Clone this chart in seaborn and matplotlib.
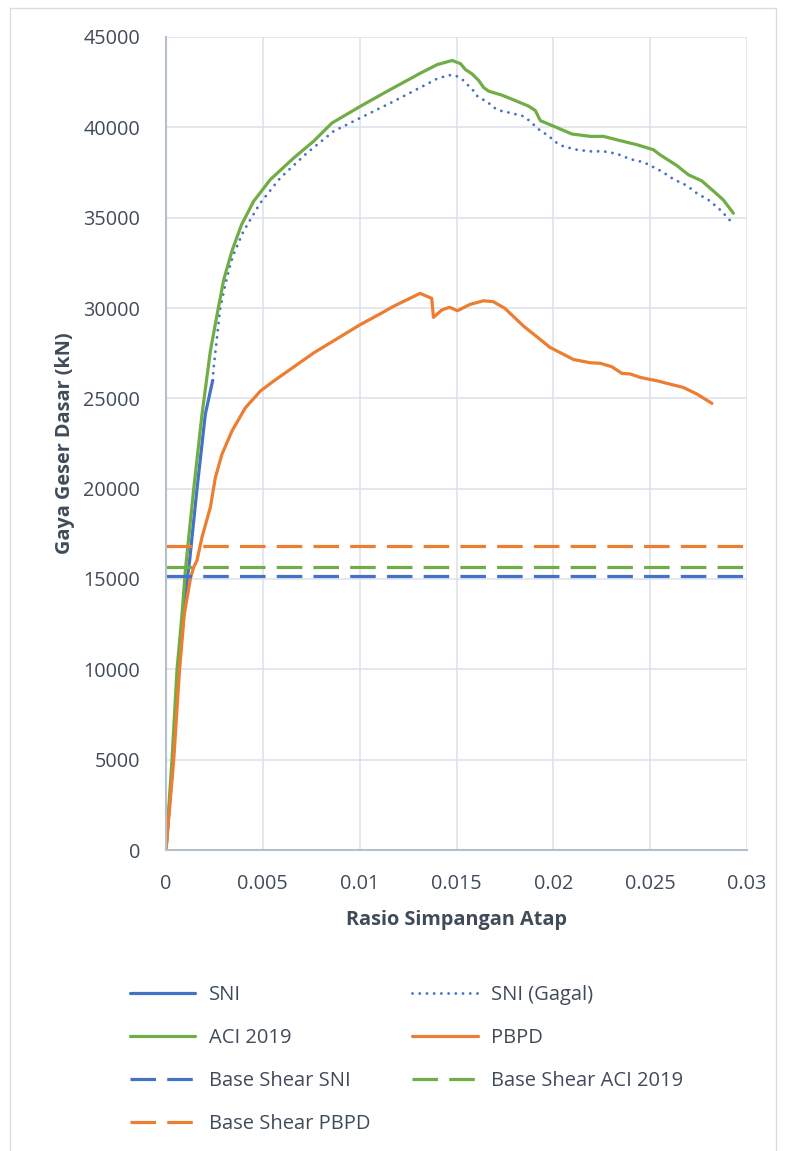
import matplotlib
matplotlib.use("Agg")
import matplotlib.pyplot as plt
import seaborn as sns
from matplotlib.patches import Rectangle

# ---- data -------------------------------------------------------------
# roof drift ratio vs. base shear (kN)
sni_x = [0, 0.00036, 0.00065, 0.00091, 0.00112, 0.00122, 0.0016, 0.00203, 0.00241]
sni_y = [0, 5000, 10000, 13090, 15200, 16030, 19980, 24120, 25990]

sni_gagal_x = [0.00241, 0.00246, 0.00263, 0.0028, 0.00306, 0.00332, 0.00348, 0.004,
               0.00486, 0.0059, 0.00728, 0.00865, 0.01003, 0.01176, 0.01314, 0.014,
               0.0146, 0.01495, 0.0153, 0.01555, 0.0158, 0.01598, 0.01624, 0.01658,
               0.01684, 0.01718, 0.01778, 0.01847, 0.01881, 0.01907, 0.01933, 0.01967,
               0.02019, 0.02053, 0.02122, 0.02191, 0.02259, 0.02328, 0.02397, 0.02466,
               0.025, 0.0256, 0.0262, 0.02689, 0.02741, 0.02801, 0.02853, 0.02904, 0.0293]
sni_gagal_y = [25990, 26690, 28350, 30000, 31290, 32400, 32950, 34250,
               35800, 37200, 38580, 39780, 40520, 41440, 42210, 42690,
               42890, 42870, 42650, 42370, 42150, 41810, 41590, 41440,
               41150, 40940, 40800, 40610, 40330, 40060, 39810, 39590,
               39130, 38940, 38760, 38670, 38670, 38540, 38240, 38070,
               37890, 37560, 37130, 36780, 36350, 35980, 35520, 34960, 34590]

aci_x = [0, 0.00031, 0.00057, 0.00083, 0.001, 0.00143, 0.00186, 0.00229, 0.00267,
         0.00298, 0.0034, 0.0039, 0.00452, 0.00538, 0.00659, 0.00762, 0.00857,
         0.01003, 0.01141, 0.01314, 0.014, 0.0146, 0.01478, 0.01521, 0.01546,
         0.0158, 0.01615, 0.01641, 0.01667, 0.01735, 0.01813, 0.01873, 0.01907,
         0.01933, 0.02002, 0.02096, 0.02191, 0.02259, 0.02328, 0.02431, 0.02517,
         0.02551, 0.02637, 0.02698, 0.02766, 0.02826, 0.02878, 0.0293]
aci_y = [0, 5000, 10000, 13090, 15480, 19980, 24120, 27610, 29820,
         31560, 33140, 34610, 35900, 37100, 38300, 39230, 40240,
         41160, 41990, 43000, 43470, 43650, 43700, 43520, 43200,
         42960, 42590, 42190, 42000, 41780, 41440, 41170, 40930,
         40370, 40060, 39630, 39500, 39500, 39310, 39040, 38760,
         38480, 37890, 37370, 37040, 36480, 35980, 35240]

pbpd_x = [0, 0.0004, 0.0007, 0.00095, 0.00127, 0.00143, 0.0016, 0.00186, 0.00229,
          0.00255, 0.00289, 0.00341, 0.0041, 0.00487, 0.00555, 0.00762, 0.01003,
          0.01105, 0.01176, 0.01312, 0.01372, 0.01381, 0.01424, 0.01464, 0.01505,
          0.0157, 0.01639, 0.0169, 0.0175, 0.01846, 0.01983, 0.02104, 0.0219,
          0.02242, 0.02302, 0.02354, 0.02397, 0.02448, 0.02535, 0.02672, 0.02741, 0.02819]
pbpd_y = [0, 5000, 10000, 13090, 15070, 15660, 16030, 17320, 18970,
          20620, 21910, 23200, 24480, 25400, 25950, 27510, 29080,
          29670, 30100, 30810, 30535, 29480, 29890, 30040, 29850,
          30200, 30400, 30350, 29980, 29000, 27820, 27150, 26970,
          26940, 26750, 26380, 26350, 26160, 25970, 25600, 25240, 24720]

# design base shear levels (kN)
base_shear_sni = 15170
base_shear_aci = 15680
base_shear_pbpd = 16840

x_ticks = [0, 0.005, 0.01, 0.015, 0.02, 0.025, 0.03]
x_tick_labels = ["0", "0.005", "0.01", "0.015", "0.02", "0.025", "0.03"]
y_ticks = [0, 5000, 10000, 15000, 20000, 25000, 30000, 35000, 40000, 45000]

# ---- style ------------------------------------------------------------
BLUE = "#4472C4"
GREEN = "#70AD47"
ORANGE = "#ED7D31"
TEXT = "#404b5a"
GRID = "#dde2e9"
SPINE = "#b6c0cd"
FS = 14.3

sns.set_theme(style="white")
plt.rcParams["font.family"] = ["Open Sans", "DejaVu Sans"]

W, H = 787, 1151
fig = plt.figure(figsize=(W / 100, H / 100), dpi=100)
ax = fig.add_axes([166 / W, 1 - 850 / H, (747 - 166) / W, (850 - 37) / H])

LW = 2.3
common = dict(ax=ax, sort=False, estimator=None, legend=False)

sns.lineplot(x=sni_x, y=sni_y, color=BLUE, lw=LW, **common)
sns.lineplot(x=sni_gagal_x, y=sni_gagal_y, color=BLUE, lw=LW * 0.9,
             linestyle=(0, (0.01, 2.5)), dash_capstyle="round", **common)
sns.lineplot(x=aci_x, y=aci_y, color=GREEN, lw=LW, **common)
sns.lineplot(x=pbpd_x, y=pbpd_y, color=ORANGE, lw=LW, **common)

dash = (0, (8, 3.5))
span = [x_ticks[0], x_ticks[-1]]
for val, col in [(base_shear_sni, BLUE), (base_shear_aci, GREEN), (base_shear_pbpd, ORANGE)]:
    sns.lineplot(x=span, y=[val, val], color=col, lw=LW, linestyle=dash, **common)

lines = ax.get_lines()
labels = ["SNI", "SNI (Gagal)", "ACI 2019", "PBPD",
          "Base Shear SNI", "Base Shear ACI 2019", "Base Shear PBPD"]

ax.set_xlim(x_ticks[0], x_ticks[-1])
ax.set_ylim(y_ticks[0], y_ticks[-1])
ax.set_xticks(x_ticks)
ax.set_xticklabels(x_tick_labels)
ax.set_yticks(y_ticks)
ax.set_yticklabels([str(v) for v in y_ticks])
ax.tick_params(axis="both", length=0, labelsize=FS, labelcolor=TEXT)
ax.tick_params(axis="y", pad=18.5)
ax.tick_params(axis="x", pad=17)

ax.grid(True, color=GRID, lw=1.1)
ax.set_axisbelow(True)
for side in ["top", "right"]:
    ax.spines[side].set_visible(False)
for side in ["left", "bottom"]:
    ax.spines[side].set_color(SPINE)
    ax.spines[side].set_linewidth(1.5)

ax.set_xlabel("Rasio Simpangan Atap", fontsize=FS, fontweight="bold", color=TEXT)
ax.set_ylabel("Gaya Geser Dasar (kN)", fontsize=FS, fontweight="bold", color=TEXT)
ax.xaxis.set_label_coords(0.5, -(910 - 850) / 813)
ax.yaxis.set_label_coords(-(166 - 75) / 581, 0.5)

# legend: two columns, read row by row
order = [0, 2, 4, 6, 1, 3, 5]
fig.legend([lines[i] for i in order], [labels[i] for i in order],
           ncol=2, loc="upper left", bbox_to_anchor=(130 / W, 1 - 985 / H),
           frameon=False, fontsize=FS + 0.2, labelcolor=TEXT,
           handlelength=3.25, handletextpad=0.65, columnspacing=2.1,
           labelspacing=1.15, borderpad=0, borderaxespad=0)

# chart area outline
fig.add_artist(Rectangle((10 / W, -0.01), (776 - 10) / W, (H - 8) / H + 0.01,
                         transform=fig.transFigure, fill=False,
                         ec="#d9dde3", lw=1.0))

fig.savefig("out.png", dpi=100)
